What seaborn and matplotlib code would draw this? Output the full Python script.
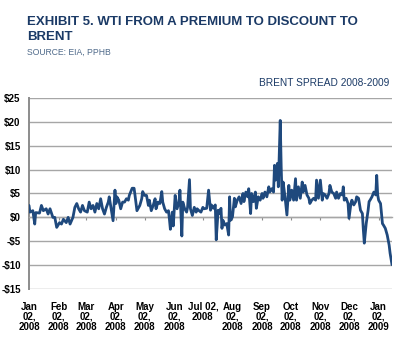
import numpy as np
import pandas as pd
import matplotlib
matplotlib.use("Agg")
import matplotlib.pyplot as plt
import matplotlib.dates as mdates
from matplotlib.ticker import FuncFormatter
import seaborn as sns

# ---- data ----
start_date = "2008-01-02"
day_offsets = [
    0, 1, 4, 6, 7, 11, 13, 15, 18, 20,
    22, 25, 27, 29, 32, 34, 36, 39, 41, 43,
    46, 48, 50, 52, 54, 56, 58, 61, 63, 65,
    67, 69, 71, 73, 75, 77, 79, 81, 83, 84,
    86, 88, 90, 91, 92, 94, 96, 98, 100, 102,
    104, 105, 108, 110, 111, 113, 116, 118, 119, 121,
    123, 125, 126, 128, 130, 132, 133, 135, 137, 139,
    140, 142, 144, 146, 147, 148, 150, 151, 153, 155,
    157, 158, 160, 161, 163, 165, 166, 168, 169, 171,
    173, 175, 176, 178, 180, 182, 183,
    186, 188, 190, 191, 193, 195, 196, 198, 199, 201,
    202, 203, 205, 207, 209, 210, 211, 213, 215, 216,
    218, 220, 222, 224, 225, 227, 229, 230, 232, 233,
    235, 237, 238, 240, 242, 244, 245, 247, 249, 251,
    252, 254, 256, 257, 258, 260, 261, 263, 264, 265,
    266, 268, 270, 272, 273, 275, 277, 279, 280, 282,
    284, 286, 287, 289, 291, 293, 294, 296, 298, 300,
    301, 303, 305, 307, 308, 310, 312, 314, 315, 317,
    319, 321, 322, 324, 326, 328, 329, 330, 332, 334,
    335, 337, 338, 340, 342, 343, 345, 347, 349, 350,
    351, 353, 355, 356, 357, 359, 361, 363, 364, 365,
    366, 368, 370, 371, 373, 375, 377, 378, 380,
]
spread = [
    2.5, 1.1, 1.4, -1.4, 1.0, 0.9, 2.5, 1.4, 1.8, 0.7,
    1.8, 0.0, 0.0, -2.1, -1.1, -1.4, -0.4, -1.1, 0.0, -1.4,
    0.0, 2.1, 2.9, 1.8, 1.1, 2.5, 1.4, 1.1, 3.2, 1.8,
    2.5, 1.1, 2.9, 1.8, 3.9, 1.8, 0.7, 2.1, 3.2, 4.3,
    1.8, -0.7, 5.7, 2.9, 4.3, 3.6, 1.8, 3.2, 3.2, 3.9,
    3.6, 4.6, 6.1, 6.1, 4.6, 1.4, 2.5, 3.9, 5.4, 4.6,
    4.6, 2.5, 3.6, 1.4, 2.5, 3.9, 1.8, 3.2, 2.9, 5.4,
    3.2, 1.8, 1.1, 1.4, -0.4, -2.5, 1.1, -1.8, 4.6, 1.8,
    3.2, 5.7, -3.9, 3.2, 1.8, 1.1, 2.1, 7.9, 1.8, 0.4,
    2.1, 1.1, 1.8, 1.4, 1.1, 2.1, 1.8,
    1.9, 5.7, 1.5, 2.6, 1.9, 2.6, -4.7, 1.5, 0.8, 1.9,
    -2.3, -0.6, -1.6, -1.3, -3.7, 4.3, -0.6, 0.1, 4.0, 2.2,
    3.6, 4.3, 2.9, 5.0, 3.3, 5.3, 4.3, 6.0, 0.8, 5.0,
    3.3, 5.3, 1.9, 4.3, 3.6, 5.0, 4.0, 5.3, 4.3, 6.4,
    5.3, 6.0, 5.3, 10.9, 7.8, 11.3, 6.4, 20.3, 10.6, 3.6,
    7.4, 4.3, 0.5, 6.7, 3.6, 5.7, 3.6, 8.1, 3.6, 6.4,
    4.0, 7.4, 5.3, 6.7, 4.7, 4.0, 2.9, 3.6, 4.0, 3.6,
    7.8, 4.0, 7.8, 3.6, 5.0, 4.7, 4.0, 5.0, 6.7, 5.3,
    5.0, 4.0, 5.3, 4.0, 5.0, 4.7, 6.4, 3.6, 4.0, 2.9,
    -0.2, 2.9, 3.6, 2.6, 3.3, 4.3, 4.0, 1.5, 0.8, -2.6,
    -5.4, -1.3, 1.5, 3.3, 3.6, 4.3, 5.3, 4.7, 8.8, 4.7,
    3.6, 2.9, -1.3, -1.6, -2.3, -3.7, -5.8, -7.5, -9.9,
]
tick_dates = [
    "2008-01-02", "2008-02-02", "2008-03-02", "2008-04-02", "2008-05-02",
    "2008-06-02", "2008-07-02", "2008-08-02", "2008-09-02", "2008-10-02",
    "2008-11-02", "2008-12-02", "2009-01-02",
]
tick_labels = [
    "Jan\n02,\n2008", "Feb\n02,\n2008", "Mar\n02,\n2008", "Apr\n02,\n2008",
    "May\n02,\n2008", "Jun\n02,\n2008", "Jul 02,\n2008", "Aug\n02,\n2008",
    "Sep\n02,\n2008", "Oct\n02,\n2008", "Nov\n02,\n2008", "Dec\n02,\n2008",
    "Jan\n02,\n2009",
]
y_ticks = [-15, -10, -5, 0, 5, 10, 15, 20, 25]

title = "EXHIBIT 5. WTI FROM A PREMIUM TO DISCOUNT TO\nBRENT"
source = "SOURCE: EIA, PPHB"
subtitle = "BRENT SPREAD 2008-2009"

# ---- build frame ----
dates = pd.Timestamp(start_date) + pd.to_timedelta(day_offsets, unit="D")
df = pd.DataFrame({"date": dates, "spread": spread})

sns.set_theme(style="white")
plt.rcParams["font.family"] = ["Liberation Sans", "DejaVu Sans"]

navy = "#1b3a66"
line_col = "#1f497d"
grid_col = "#a6a6a6"

fig = plt.figure(figsize=(4.0, 3.53), dpi=100)
ax = fig.add_axes([0.0725, 0.1813, 0.9075, 0.5411])

sns.lineplot(data=df, x="date", y="spread", ax=ax, color=line_col,
             linewidth=2.0, zorder=3)

ax.set_ylim(-15, 25)
ax.set_xlim(dates[0], dates[-1])
ax.set_yticks(y_ticks)
ax.yaxis.set_major_formatter(FuncFormatter(
    lambda v, p: f"${v:.0f}" if v >= 0 else f"-${-v:.0f}"))
ax.yaxis.grid(True, color=grid_col, linewidth=1.0)
ax.xaxis.grid(False)
ax.set_xlabel("")
ax.set_ylabel("")

for s in ["top", "right"]:
    ax.spines[s].set_visible(False)
ax.spines["left"].set_color("#8c8c8c")
ax.spines["left"].set_linewidth(1.4)
ax.spines["bottom"].set_position(("data", 0))
ax.spines["bottom"].set_color(grid_col)
ax.spines["bottom"].set_linewidth(1.0)

tick_nums = mdates.date2num(pd.to_datetime(tick_dates))
ax.set_xticks(tick_nums)
ax.tick_params(axis="x", direction="out", length=2.5, width=0.8,
               color="#8c8c8c", labelbottom=False, bottom=True)
ax.tick_params(axis="y", length=0, pad=6, labelsize=7, labelcolor="black")
for lab in ax.get_yticklabels():
    lab.set_fontweight("bold")

sec = ax.secondary_xaxis("bottom")
sec.set_xticks(tick_nums, tick_labels)
sec.tick_params(length=0, pad=9, labelsize=7, labelcolor="black")
sec.spines["bottom"].set_visible(False)
for lab in sec.get_xticklabels():
    lab.set_fontweight("bold")
    lab.set_linespacing(1.05)
    lab.set_horizontalalignment("center")

fig.text(0.0675, 0.955, title, fontsize=9.5, fontweight="bold", color=navy,
         ha="left", va="top", linespacing=1.3)
fig.text(0.0675, 0.851, source, fontsize=6.2, color="#4f6a8a",
         ha="left", va="center")
fig.text(0.973, 0.764, subtitle, fontsize=7.3, color=navy,
         ha="right", va="center")

fig.savefig("out.png", dpi=100)
